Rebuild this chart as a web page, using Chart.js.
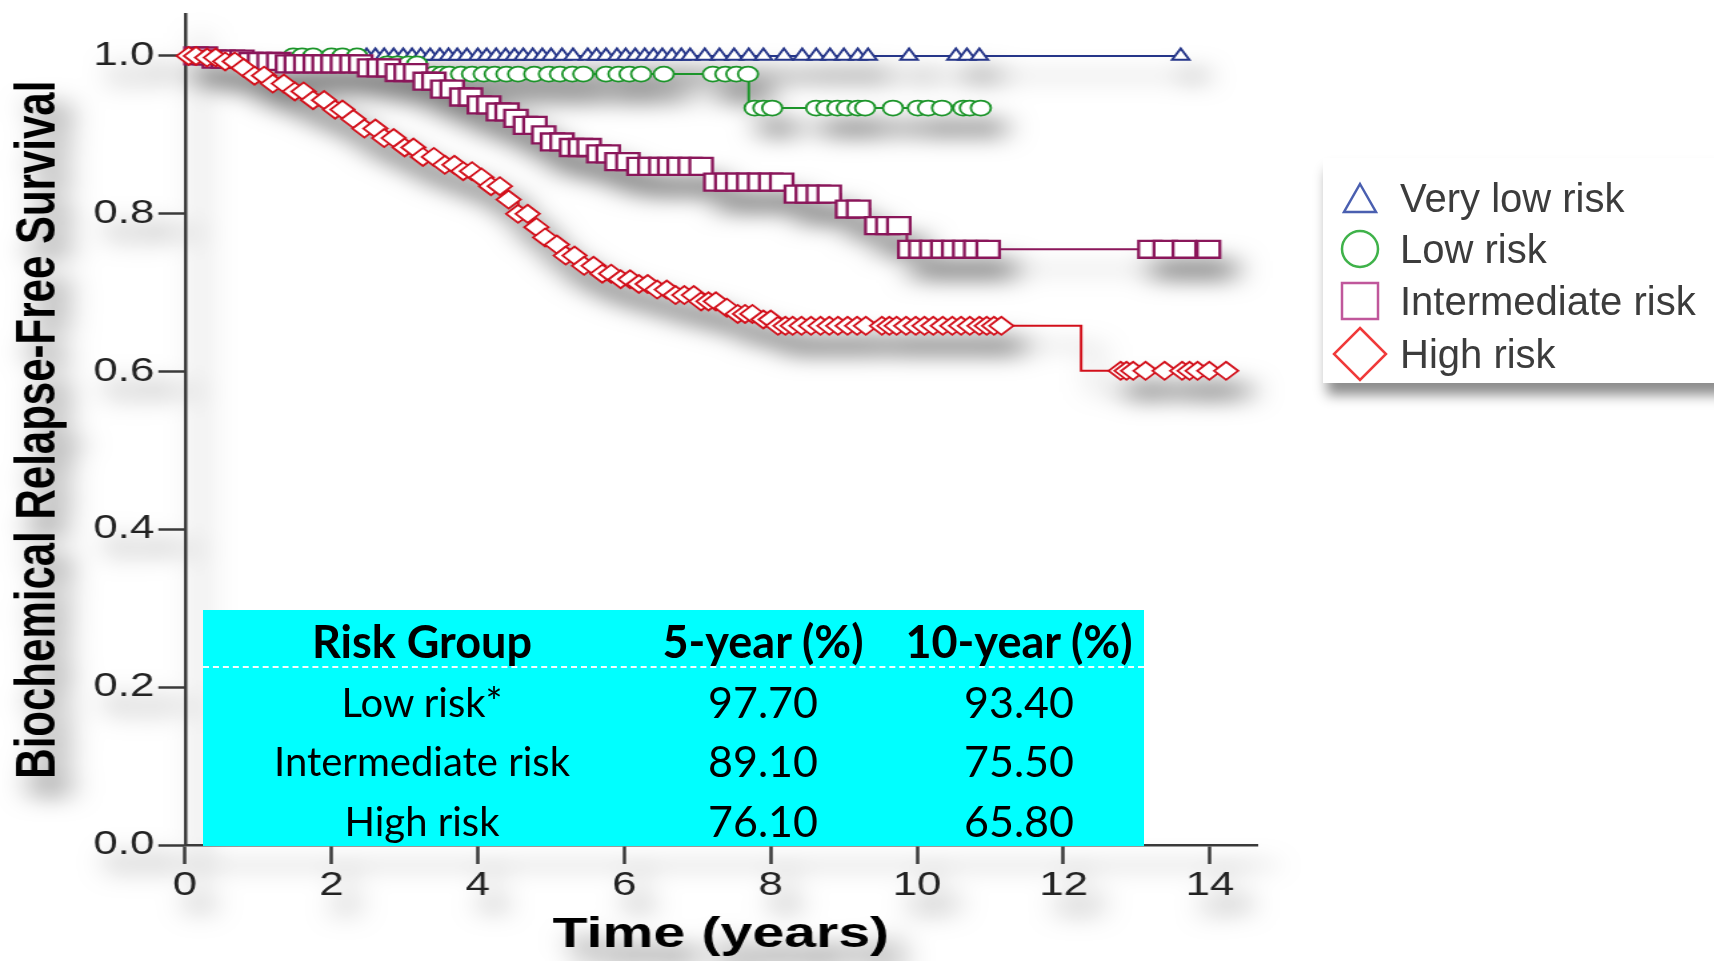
<!DOCTYPE html>
<html>
<head>
<meta charset="utf-8">
<script src="https://cdn.jsdelivr.net/npm/chart.js@4.4.1/dist/chart.umd.min.js"></script>
<style>
  html, body { margin: 0; padding: 0; background: #fff; overflow: hidden; }
  body { width: 1714px; height: 961px; position: relative; }
  #grafico {
    position: absolute; left: 0; top: 0;
    transform-origin: 0 0; transform: scaleX(1.3328);
    filter: drop-shadow(11px 20px 11px rgba(0,0,0,0.52));
  }
  #tabela {
    position: absolute; left: 203px; top: 610px; width: 941px; height: 236px;
    background: #00ffff; font-family: Lato, "Open Sans", sans-serif; color: #000;
  }
  #tabela .cel { position: absolute; width: 400px; height: 50px; line-height: 50px; text-align: center; font-size: 40px; white-space: nowrap; }
  #tabela .num { font-size: 43px; }
  #tabela .cab { font-weight: bold; font-size: 45px; }
  #tabela .linha { position: absolute; left: 0; right: 0; top: 56px; border-top: 2px dashed rgba(255,255,255,0.95); }
  #legenda {
    position: absolute; left: 1323px; top: 158px; width: 430px; height: 225px;
    background: #fff; box-shadow: 4px 12px 12px rgba(0,0,0,0.45);
    font-family: "Liberation Sans", Arial, sans-serif; color: #3c3c3c;
  }
  #legenda .item { position: absolute; left: 77px; font-size: 40px; line-height: 50px; height: 50px; white-space: nowrap; }
  #legenda svg { position: absolute; left: 0; top: 0; }
</style>
</head>
<body>
<canvas id="grafico" width="1286" height="961"></canvas>
<div id="tabela"></div>
<div id="legenda"></div>
<script>
const groupNames = ['Very low risk', 'Low risk', 'Intermediate risk', 'High risk'];
const groupColors = ['#263689', '#1c952a', '#8a165a', '#d20f1a'];
const legendColors = ['#4a5fb0', '#3fb24a', '#c0579b', '#f03a3a'];

// relapse-free survival table (%)
const tableHeader = ['Risk Group', '5-year (%)', '10-year (%)'];
const tableGroups = ['Low risk*', 'Intermediate risk', 'High risk'];
const fiveYear = [97.70, 89.10, 76.10];
const tenYear = [93.40, 75.50, 65.80];

// step curves: time of each drop (years) and survival after it
const veryLowTimes = [0];
const veryLowSurv = [1.0];
const veryLowCensored = [2.48, 2.6, 2.72, 2.85, 2.98, 3.1, 3.22, 3.35, 3.48, 3.6, 3.72, 3.85, 4.0, 4.12,
  4.25, 4.38, 4.5, 4.62, 4.75, 4.88, 5.0, 5.15, 5.3, 5.5, 5.62, 5.75, 5.9, 6.02, 6.15, 6.28, 6.4,
  6.52, 6.65, 6.78, 6.9, 7.1, 7.3, 7.5, 7.7, 7.9, 8.18, 8.43, 8.62, 8.81, 9.0, 9.19, 9.33, 9.89,
  10.53, 10.68, 10.85, 13.6];

const lowTimes = [0, 2.5, 3.2, 7.7];
const lowSurv = [1.0, 0.990, fiveYear[0] / 100, tenYear[0] / 100];
const lowCensored = [1.48, 1.6, 1.75, 2.0, 2.15, 2.35, 2.76, 2.9, 3.05, 3.17, 3.4, 3.51, 3.61, 3.77,
  3.92, 4.08, 4.23, 4.39, 4.55, 4.77, 4.97, 5.12, 5.29, 5.44, 5.75, 5.92, 6.07, 6.23, 6.54, 7.21,
  7.38, 7.53, 7.69, 7.78, 7.9, 8.02, 8.62, 8.76, 8.91, 9.04, 9.19, 9.29, 9.67, 10.01, 10.15, 10.34,
  10.63, 10.72, 10.87];

const interTimes = [0, 0.3, 0.8, 1.4, 2.45, 2.8, 3.2, 3.5, 3.75, 4.0, 4.25, 4.45, 4.65, 4.85, 4.95,
  5.25, 5.55, 5.9, 6.2, 7.17, 8.25, 8.95, 9.35, 9.86];
const interSurv = [1.0, 0.996, 0.993, 0.990, 0.985, 0.979, 0.968, 0.958, 0.948, 0.938, 0.929, 0.921,
  0.912, 0.900, fiveYear[1] / 100, 0.884, 0.876, 0.866, 0.860, 0.840, 0.825, 0.806, 0.785, tenYear[1] / 100];
const interCensored = [0.15, 0.28, 0.4, 0.52, 0.65, 0.78, 0.9, 1.02, 1.15, 1.28, 1.4, 1.52, 1.65, 1.78,
  1.9, 2.02, 2.15, 2.28, 2.4, 2.52, 2.65, 2.78, 2.9, 3.02, 3.15, 3.28, 3.4, 3.52, 3.65, 3.78, 3.9,
  4.02, 4.15, 4.28, 4.4, 4.52, 4.65, 4.78, 4.9, 5.02, 5.15, 5.28, 5.4, 5.52, 5.65, 5.78, 5.9, 6.05,
  6.2, 6.35, 6.5, 6.62, 6.75, 6.9, 7.05, 7.25, 7.4, 7.55, 7.7, 7.85, 8.0, 8.15, 8.35, 8.5, 8.65,
  8.8, 9.05, 9.2, 9.45, 9.6, 9.75, 9.9, 10.05, 10.2, 10.35, 10.5, 10.65, 10.8, 10.97,
  13.18, 13.39, 13.65, 13.98];

const highTimes = [0, 0.2, 0.45, 0.7, 0.95, 1.2, 1.45, 1.7, 1.95, 2.2, 2.45, 2.7, 2.95, 3.2, 3.45,
  3.7, 3.95, 4.15, 4.35, 4.55, 4.75, 4.9, 4.98, 5.2, 5.4, 5.6, 5.85, 6.1, 6.4, 6.7, 7.0, 7.3, 7.55,
  7.9, 8.1, 12.24];
const highSurv = [1.0, 0.998, 0.993, 0.985, 0.975, 0.965, 0.955, 0.944, 0.932, 0.920, 0.908, 0.896,
  0.884, 0.872, 0.862, 0.854, 0.846, 0.835, 0.818, 0.800, 0.783, 0.770, fiveYear[2] / 100, 0.747,
  0.734, 0.724, 0.717, 0.711, 0.704, 0.697, 0.689, 0.681, 0.673, 0.666, tenYear[2] / 100, 0.601];
const highCensored = [0.05, 0.15, 0.3, 0.42, 0.55, 0.68, 0.8, 0.95, 1.08, 1.2, 1.35, 1.5, 1.62, 1.75,
  1.9, 2.05, 2.15, 2.3, 2.45, 2.6, 2.72, 2.85, 3.0, 3.12, 3.25, 3.4, 3.55, 3.68, 3.8, 3.92, 4.05,
  4.18, 4.3, 4.42, 4.55, 4.68, 4.8, 4.92, 5.08, 5.2, 5.32, 5.45, 5.58, 5.7, 5.82, 5.95, 6.08, 6.2,
  6.32, 6.45, 6.58, 6.7, 6.82, 6.95, 7.05, 7.15, 7.25, 7.4, 7.55, 7.65, 7.75, 7.9, 8.0, 8.1, 8.2,
  8.3, 8.42, 8.55, 8.68, 8.8, 8.92, 9.05, 9.18, 9.3, 9.52, 9.62, 9.72, 9.85, 9.98, 10.1, 10.22,
  10.35, 10.48, 10.6, 10.72, 10.85, 10.95, 11.05, 11.15, 12.78, 12.86, 12.95, 13.12, 13.38,
  13.62, 13.72, 13.83, 13.99, 14.22];

const yTicks = [0, 0.2, 0.4, 0.6, 0.8, 1.0];
const xTicks = [0, 2, 4, 6, 8, 10, 12, 14];

// survival value of a step curve at time t
function survAt(times, surv, t) {
  let s = surv[0];
  for (let i = 0; i < times.length; i++) {
    if (times[i] <= t) s = surv[i];
  }
  return s;
}

function buildPoints(times, surv, censored) {
  const pts = times.map((t, i) => ({ x: t, y: surv[i], censored: false }));
  censored.forEach(t => pts.push({ x: t, y: survAt(times, surv, t), censored: true }));
  pts.sort((a, b) => a.x - b.x);
  return pts;
}

function curva(i, pts, estilo, raio, espessura) {
  return {
    label: groupNames[i],
    data: pts,
    stepped: true,
    fill: false,
    borderColor: groupColors[i],
    borderWidth: 2,
    pointStyle: estilo,
    pointRadius: c => (c.raw && c.raw.censored ? raio : 0),
    pointHoverRadius: 0,
    pointBorderColor: groupColors[i],
    pointBackgroundColor: '#ffffff',
    pointBorderWidth: espessura,
    clip: false
  };
}

// first dataset is painted last (on top)
const datasets = [
  curva(3, buildPoints(highTimes, highSurv, highCensored), 'rectRot', 9, 1.8),
  curva(2, buildPoints(interTimes, interSurv, interCensored), 'rect', 12, 2.3),
  curva(1, buildPoints(lowTimes, lowSurv, lowCensored), 'circle', 7.5, 1.8),
  curva(0, buildPoints(veryLowTimes, veryLowSurv, veryLowCensored), 'triangle', 7.5, 1.9)
];

const fonte = "'Liberation Sans', Arial, sans-serif";

// keep the plot area exactly where the axes are set, without label overhang
const semSobra = s => { s.paddingTop = 0; s.paddingBottom = 0; s.paddingLeft = 0; s.paddingRight = 0; };

new Chart(document.getElementById('grafico'), {
  type: 'line',
  data: { datasets },
  options: {
    responsive: false,
    animation: false,
    events: [],
    layout: { padding: { top: 13, right: 343, left: 0, bottom: 0 } },
    plugins: { legend: { display: false }, tooltip: { enabled: false } },
    scales: {
      x: {
        type: 'linear',
        min: 0,
        max: 14.64,
        afterFit: s => { s.height = 116; semSobra(s); },
        afterBuildTicks: s => { s.ticks = xTicks.map(v => ({ value: v })); },
        ticks: { font: { family: fonte, size: 33 }, color: '#222', padding: 2, maxRotation: 0, autoSkip: false },
        grid: { display: true, drawOnChartArea: false, drawTicks: true, tickLength: 19, tickWidth: 2.5, tickColor: '#3a3a3a' },
        border: { display: true, color: '#3a3a3a', width: 2.5 },
        title: { display: true, text: 'Time (years)', color: '#000', font: { family: fonte, size: 43, weight: 'bold' }, padding: { top: 0, bottom: 0 } }
      },
      y: {
        type: 'linear',
        min: 0,
        max: 1.0528,
        afterFit: s => { s.width = 138.8; semSobra(s); },
        afterBuildTicks: s => { s.ticks = yTicks.map(v => ({ value: v })); },
        ticks: { font: { family: fonte, size: 33 }, color: '#222', padding: 3, callback: v => v.toFixed(1) },
        grid: { display: true, drawOnChartArea: false, drawTicks: true, tickLength: 20, tickWidth: 2.5, tickColor: '#3a3a3a' },
        border: { display: true, color: '#3a3a3a', width: 2.5 },
        title: { display: true, text: 'Biochemical Relapse-Free Survival', color: '#000', font: { family: fonte, size: 42, weight: 'bold' }, padding: { top: 4, bottom: 0 } }
      }
    }
  }
});

// table of 5- and 10-year survival
const tabela = document.getElementById('tabela');
const colCentros = [219, 560, 816];
const linhaCentros = [92, 151, 211];
function celula(texto, cx, cy, classe) {
  const d = document.createElement('div');
  d.className = 'cel ' + classe;
  d.style.left = (cx - 200) + 'px';
  d.style.top = (cy - 25) + 'px';
  d.textContent = texto;
  tabela.appendChild(d);
}
tableHeader.forEach((h, j) => celula(h, colCentros[j], 31, 'cab'));
const sep = document.createElement('div');
sep.className = 'linha';
tabela.appendChild(sep);
tableGroups.forEach((g, i) => {
  celula(g, colCentros[0], linhaCentros[i], '');
  celula(fiveYear[i].toFixed(2), colCentros[1], linhaCentros[i], 'num');
  celula(tenYear[i].toFixed(2), colCentros[2], linhaCentros[i], 'num');
});

// legend
const legenda = document.getElementById('legenda');
const legY = [40, 91, 143, 196];
const ns = 'http://www.w3.org/2000/svg';
const svg = document.createElementNS(ns, 'svg');
svg.setAttribute('width', 90);
svg.setAttribute('height', 225);
const formas = [
  `<polygon points="37,26 53,54 21,54" />`,
  `<circle cx="37" cy="91" r="18" />`,
  `<rect x="19" y="125" width="36" height="36" />`,
  `<polygon points="37,170 63,196 37,222 11,196" />`
];
svg.innerHTML = formas.map((f, i) =>
  f.replace('/>', `fill="none" stroke="${legendColors[i]}" stroke-width="2.5" />`)).join('');
legenda.appendChild(svg);
groupNames.forEach((n, i) => {
  const d = document.createElement('div');
  d.className = 'item';
  d.style.top = (legY[i] - 25) + 'px';
  d.textContent = n;
  legenda.appendChild(d);
});
</script>
</body>
</html>
